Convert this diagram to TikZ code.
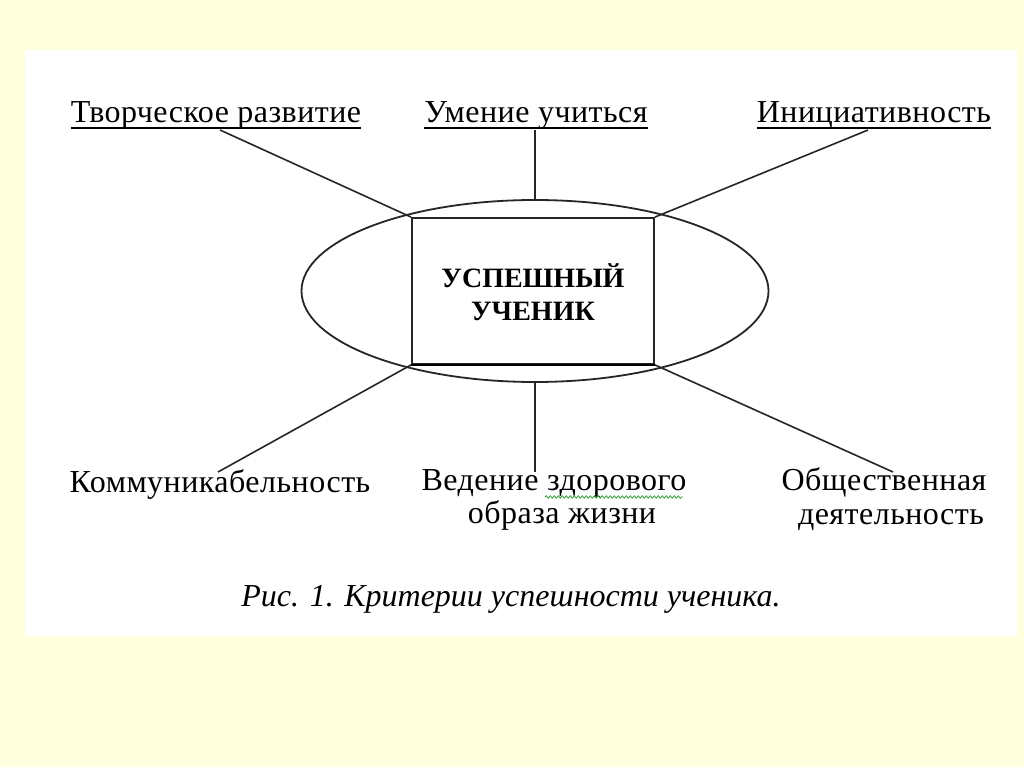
\documentclass[tikz,border=0pt]{standalone}
\usepackage{fontspec}
\setmainfont{Liberation Serif}
\usetikzlibrary{shapes.geometric,decorations.pathmorphing}
\definecolor{bgyellow}{RGB}{255,255,222}
\definecolor{spellgreen}{RGB}{60,160,60}
\begin{document}
\begin{tikzpicture}[x=1pt,y=-1pt,
  lbl/.style={inner sep=0pt,anchor=base,font=\fontsize{32}{34}\selectfont\addfontfeature{LetterSpace=1.5}},
  conn/.style={draw=black!85,line width=1.6pt},
  uline/.style={draw=black,line width=2pt}]
\useasboundingbox (0,0) rectangle (1024,767);
\fill[bgyellow] (0,0) rectangle (1024,767);
\fill[white] (25,50) rectangle (1017,636);
% centre
\node[ellipse,draw=black!85,line width=1.8pt,minimum width=467pt,minimum height=182pt,inner sep=0pt] (ell) at (535,291) {};
\node[draw=black!85,line width=1.8pt,fill=white,minimum width=242pt,minimum height=146pt,inner sep=0pt] (box) at (533,291) {};
\node[font=\bfseries\fontsize{28}{33}\selectfont,anchor=base] (title1) at (533,287) {УСПЕШНЫЙ};
\node[font=\bfseries\fontsize{28}{33}\selectfont,anchor=base] (title2) at (533,320) {УЧЕНИК};
\draw[line width=2.6pt] (box.south west) -- (box.south east);
% top labels
\node[lbl] (tl) at (216,123) {Творческое развитие};
\node[lbl] (tm) at (536,123) {Умение учиться};
\node[lbl] (tr) at (874,123) {Инициативность};
\foreach \n in {tl,tm,tr}{
  \draw[uline] ([yshift=-5pt]\n.base west) -- ([yshift=-5pt]\n.base east);
}
% bottom labels
\node[lbl] (bl) at (220,492) {Коммуникабельность};
\node[lbl] (bm) at (554,490) {Ведение здорового};
\node[lbl] (bm2) at (562,523) {образа жизни};
\node[lbl] (br) at (884,490) {Общественная};
\node[lbl] (br2) at (891,524) {деятельность};
% spell-check squiggle
\coordinate (sq1) at (545,497);
\coordinate (sq2) at (683,497);
\draw[spellgreen,line width=0.8pt,decorate,decoration={snake,amplitude=1.2pt,segment length=4pt}] (sq1) -- (sq2);
% connectors
\draw[conn] ([xshift=4pt,yshift=-7pt]tl.base) -- (box.north west);
\draw[conn] ([xshift=-1pt,yshift=-7pt]tm.base) -- (ell.north);
\draw[conn] ([xshift=-6pt,yshift=-7pt]tr.base) -- (box.north east);
\draw[conn] (box.south west) -- ([xshift=-2pt,yshift=20pt]bl.base);
\draw[conn] (ell.south) -- ([xshift=-19pt,yshift=18pt]bm.base);
\draw[conn] (box.south east) -- ([xshift=9pt,yshift=18pt]br.base);
% caption
\node[inner sep=0pt,anchor=base,font=\itshape\fontsize{32}{34}\selectfont] (cap) at (511,606) {Рис. 1. Критерии успешности ученика.};
\end{tikzpicture}
\end{document}
